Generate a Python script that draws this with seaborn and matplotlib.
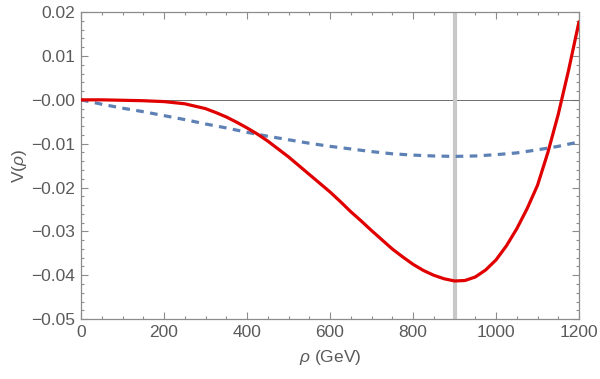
# IMPORTING LIBRARIES

import matplotlib
matplotlib.use('Agg')
import matplotlib.pyplot as plt
from matplotlib.ticker import MultipleLocator
import seaborn as sns
import pandas as pd


# DATA

rho_red = [0, 50, 100, 150, 200, 250, 300, 325, 350, 375, 400, 425, 450, 475, 500,
           525, 550, 575, 600, 625, 650, 675, 700, 725, 750, 775, 800, 825, 850,
           875, 900, 925, 950, 975, 1000, 1025, 1050, 1075, 1100, 1125, 1150,
           1175, 1200]

v_red = [0.0, 0.0, -0.0001, -0.0002, -0.0004, -0.0009, -0.0020, -0.0029, -0.0039,
         -0.0051, -0.0064, -0.0078, -0.0094, -0.0112, -0.0130, -0.0150, -0.0170,
         -0.0190, -0.0210, -0.0232, -0.0255, -0.0276, -0.0298, -0.0319, -0.0340,
         -0.0358, -0.0375, -0.0389, -0.0400, -0.0408, -0.0413, -0.0412, -0.0404,
         -0.0388, -0.0365, -0.0333, -0.0294, -0.0248, -0.0195, -0.0120, -0.0033,
         0.0068, 0.0178]

rho_blue = [0, 50, 100, 150, 200, 250, 300, 350, 400, 450, 500, 550, 600, 650, 700,
            750, 800, 850, 900, 950, 1000, 1050, 1100, 1150, 1200]

v_blue = [0.0, -0.0010, -0.0019, -0.0027, -0.0036, -0.0045, -0.0055, -0.0064, -0.0074,
          -0.0083, -0.0091, -0.0099, -0.0106, -0.0112, -0.0118, -0.0123, -0.0126,
          -0.0128, -0.0129, -0.0128, -0.0125, -0.0121, -0.0114, -0.0106, -0.0096]

rho_min = 902

df_red = pd.DataFrame({'rho': rho_red, 'V': v_red})
df_blue = pd.DataFrame({'rho': rho_blue, 'V': v_blue})


# STYLE

sns.set_theme(style='ticks')
plt.rcParams['font.family'] = ['Liberation Sans', 'DejaVu Sans']
plt.rcParams['mathtext.fontset'] = 'custom'
plt.rcParams['mathtext.it'] = 'Liberation Sans:italic'
plt.rcParams['mathtext.rm'] = 'Liberation Sans'

frame_col = '#8c8c8c'
text_col = '#5a5a5a'


# PLOTTING

fig = plt.figure(figsize=(6, 3.79), dpi=100)
ax = fig.add_axes([0.135, 0.158, 0.83, 0.81])

ax.axhline(0, color='#6e6e6e', lw=0.7, zorder=1)
ax.axvline(rho_min, color='#c8c8c8', lw=3, zorder=1)

sns.lineplot(x='rho', y='V', data=df_blue, ax=ax, color='#5e81b5', lw=2.3,
             linestyle=(0, (2.4, 2.0)), zorder=2)
sns.lineplot(x='rho', y='V', data=df_red, ax=ax, color='#e00000', lw=2.3, zorder=3)

ax.set_xlim(0, 1200)
ax.set_ylim(-0.05, 0.02)

ax.xaxis.set_major_locator(MultipleLocator(200))
ax.xaxis.set_minor_locator(MultipleLocator(50))
ax.yaxis.set_major_locator(MultipleLocator(0.01))
ax.yaxis.set_minor_locator(MultipleLocator(0.002))
ax.yaxis.set_major_formatter(plt.FuncFormatter(lambda v, p: f'{v:.2f}'.replace('-', '\u2212')))

ax.tick_params(which='both', direction='in', top=True, right=True,
               colors=frame_col, labelcolor=text_col, labelsize=12.5, width=0.8)
ax.tick_params(which='major', length=5, pad=4)
ax.tick_params(which='minor', length=2.5)

for sp in ax.spines.values():
    sp.set_color(frame_col)
    sp.set_linewidth(0.9)

ax.set_xlabel(r'$\rho$ (GeV)', color=text_col, fontsize=12.5, labelpad=6)
ax.set_ylabel(r'V($\rho$)', color=text_col, fontsize=12.5, labelpad=2)

plt.savefig('out.png', dpi=100)
